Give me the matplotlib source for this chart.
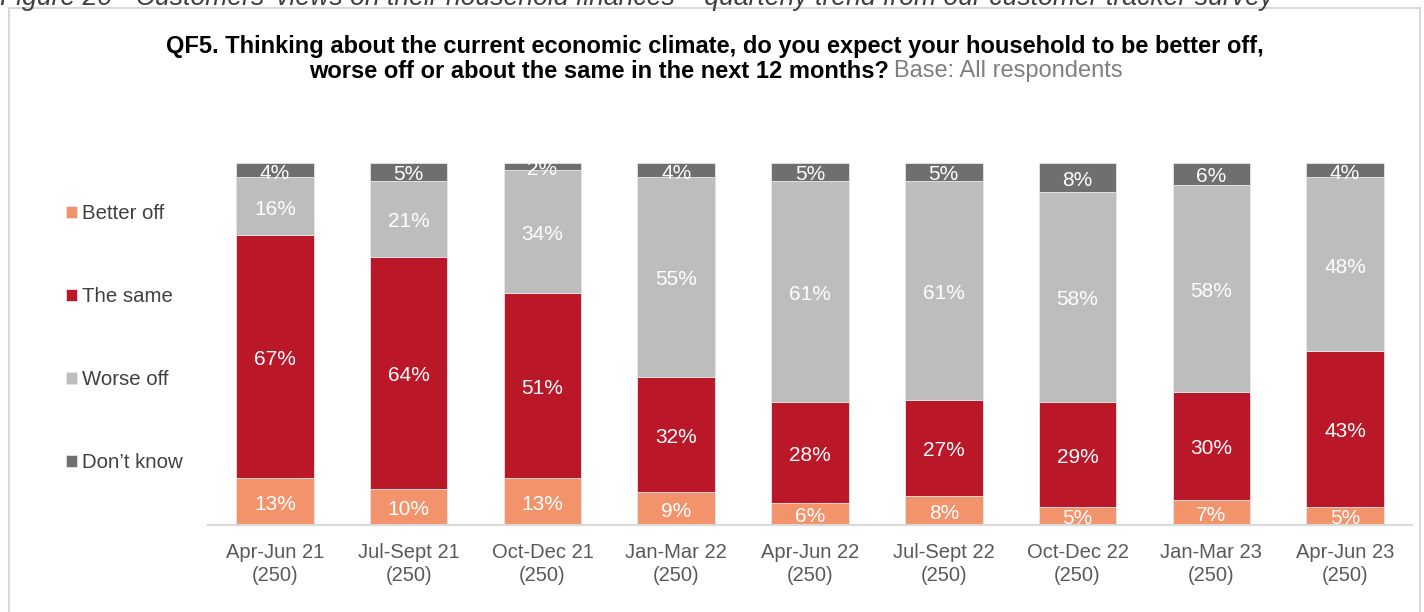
import matplotlib.pyplot as plt
import numpy as np
from matplotlib.patches import Rectangle

plt.rcParams['font.family'] = ['Liberation Sans', 'DejaVu Sans']

# Données
periodes = ["Apr-Jun 21", "Jul-Sept 21", "Oct-Dec 21", "Jan-Mar 22", "Apr-Jun 22",
            "Jul-Sept 22", "Oct-Dec 22", "Jan-Mar 23", "Apr-Jun 23"]
bases = [250, 250, 250, 250, 250, 250, 250, 250, 250]
better_off = [13, 10, 13, 9, 6, 8, 5, 7, 5]
the_same = [67, 64, 51, 32, 28, 27, 29, 30, 43]
worse_off = [16, 21, 34, 55, 61, 61, 58, 58, 48]
dont_know = [4, 5, 2, 4, 5, 5, 8, 6, 4]

series = [("Better off", better_off, "#F3936C"),
          ("The same", the_same, "#BA1729"),
          ("Worse off", worse_off, "#BDBDBD"),
          ("Don\u2019t know", dont_know, "#6F6F6F")]

W, H = 1424, 612
fig = plt.figure(figsize=(W / 100, H / 100), dpi=100)
ax = fig.add_axes([208 / W, 1 - 525 / H, (1412 - 208) / W, (525 - 163) / H])

x = np.arange(len(periodes))
totaux = np.sum([s[1] for s in series], axis=0)
bas = np.zeros(len(periodes))
for nom, vals, couleur in series:
    parts = np.array(vals) / totaux
    ax.bar(x, parts, 0.58, bottom=bas, color=couleur, label=nom,
           edgecolor="#E6E6E6", linewidth=0.6)
    for xi, b, p, v in zip(x, bas, parts, vals):
        ax.annotate(f"{v}%", (xi, b + p / 2), xytext=(0, -2), textcoords="offset points",
                    ha="center", va="center", color="white", fontsize=15)
    bas += parts

ax.set_xlim(-0.5, len(periodes) - 0.5)
ax.set_ylim(0, 1)
ax.set_xticks(x)
ax.set_xticklabels([f"{p}\n({b})" for p, b in zip(periodes, bases)],
                   fontsize=14.5, color="#595959", linespacing=1.25)
ax.tick_params(axis="x", length=0, pad=13)
ax.set_yticks([])
for s in ["top", "right", "left"]:
    ax.spines[s].set_visible(False)
ax.spines["bottom"].set_color("#D9D9D9")
ax.spines["bottom"].set_linewidth(1.5)

fig.legend(loc="center left", bbox_to_anchor=(66 / W, 1 - 338 / H),
           frameon=False, fontsize=14.7, labelcolor="#404040",
           handlelength=0.52, handleheight=0.52, handletextpad=0.25,
           labelspacing=3.13, borderpad=0, borderaxespad=0)

# Titre
fig.text(715 / W, 1 - 47 / H,
         "QF5. Thinking about the current economic climate, do you expect your household to be better off,",
         ha="center", va="center", fontsize=17, fontweight="bold", color="black")
fig.text(889 / W, 1 - 71 / H, "worse off or about the same in the next 12 months?",
         ha="right", va="center", fontsize=17, fontweight="bold", color="black")
fig.text(894 / W, 1 - 71 / H, "Base: All respondents",
         ha="left", va="center", fontsize=17, color="#7F7F7F")

# Légende de figure coupée en haut
fig.text(0, 1 - 5 / H,
         "Figure 20 - Customers\u2019 views on their household finances \u2013 quarterly trend from our customer tracker survey",
         ha="left", va="baseline", fontsize=19.2, style="italic", color="#404040")

# Cadre
fig.patches.append(Rectangle((9 / W, -0.05), (1420 - 9) / W, 1.05 - 8 / H,
                             transform=fig.transFigure, fill=False,
                             edgecolor="#D9D9D9", linewidth=1.5))

fig.savefig("out.png", dpi=100)
